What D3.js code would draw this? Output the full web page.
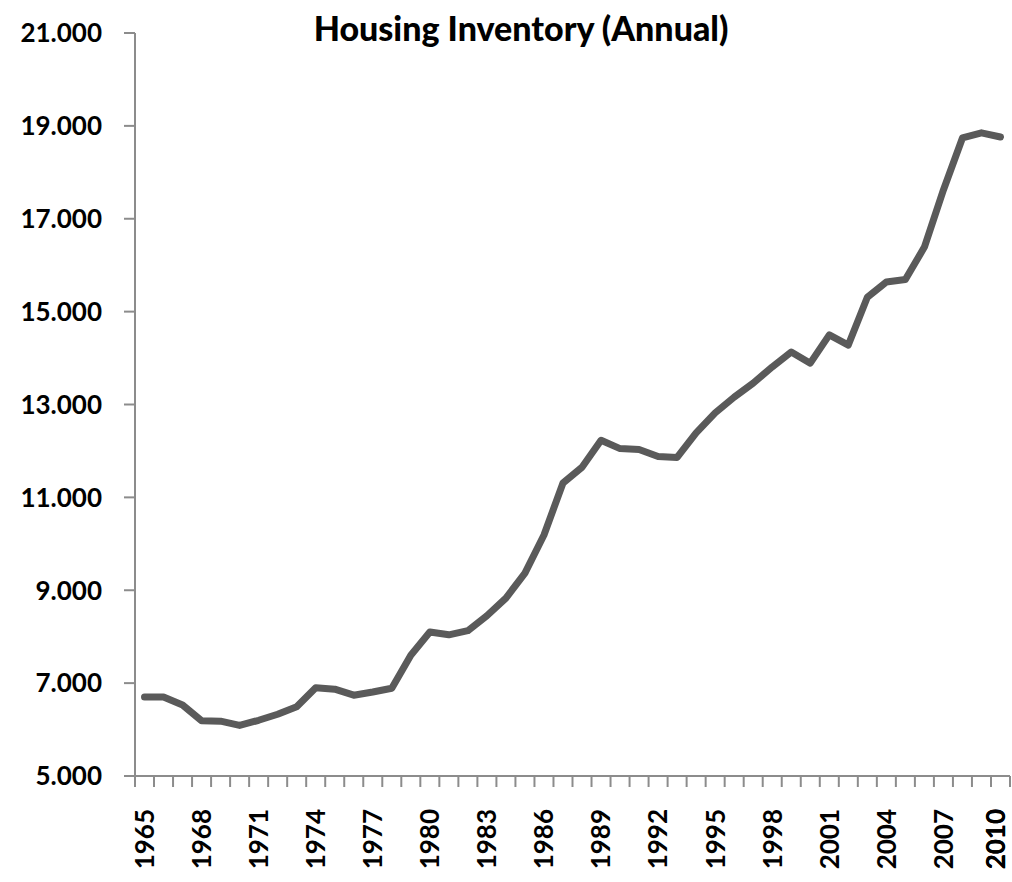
<!DOCTYPE html>
<html>
<head>
<meta charset="utf-8">
<script src="https://cdn.jsdelivr.net/npm/d3@7"></script>
<style>
  body{margin:0;background:#fff;}
  #chart{width:1012px;height:882px;}
  .lbl{font-family:Lato, "Open Sans", sans-serif;font-weight:bold;fill:#000;}
</style>
</head>
<body>
<div id="chart"></div>
<script>
// anos (categorias do eixo x)
var years = d3.range(1965, 2011);
// estoque de moradias
var inventory = [
  6700, 6700, 6530, 6190, 6180, 6090, 6200, 6330, 6490, 6900,
  6870, 6740, 6810, 6890, 7600, 8100, 8040, 8130, 8450, 8830,
  9370, 10190, 11310, 11650, 12230, 12050, 12030, 11880, 11860, 12390,
  12820, 13160, 13460, 13810, 14130, 13890, 14500, 14280, 15310, 15640,
  15690, 16390, 17620, 18740, 18850, 18760
];
var yTicks = [5000, 7000, 9000, 11000, 13000, 15000, 17000, 19000, 21000];
var xLabelYears = d3.range(1965, 2011, 3).concat([2010]);
var title = "Housing Inventory (Annual)";

function LineChart(){
    var margin = {top:33, right:2, bottom:106, left:135};
    var width = 1012, height = 882;
    var plotWidth = width - margin.left - margin.right;
    var plotHeight = height - margin.top - margin.bottom;

    function chart(selection){
        selection.each(function(){
            var el = d3.select(this);
            el.html("");
            var svg = el.append('svg').attr('width',width).attr('height',height);
            var plotArea = svg.append('g')
                .attr("transform","translate("+margin.left+","+margin.top+")");

            var xs = d3.scaleBand().range([0,plotWidth]).domain(years);
            var ys = d3.scaleLinear().range([plotHeight,0]).domain([5000,21000]);
            var fmt = function(v){ return d3.format(",")(v).replace(/,/g,"."); };

            // eixo y
            plotArea.selectAll('line.ytick').data(yTicks).enter().append('line')
                .attr('x1',-11).attr('x2',0)
                .attr('y1',function(d){return ys(d);})
                .attr('y2',function(d){return ys(d);})
                .attr('stroke','#8c8c8c').attr('stroke-width',2);
            plotArea.append('line')
                .attr('x1',0).attr('x2',0).attr('y1',0).attr('y2',plotHeight)
                .attr('stroke','#8c8c8c').attr('stroke-width',2);
            plotArea.selectAll('text.ylab').data(yTicks).enter().append('text')
                .attr('class','lbl')
                .attr('x',-33).attr('y',function(d){return ys(d);})
                .attr('dy','0.36em')
                .attr('text-anchor','end')
                .style('font-size','26px')
                .text(fmt);

            // eixo x: marcas entre as categorias
            var edges = years.map(function(d){return xs(d);}).concat([plotWidth]);
            plotArea.selectAll('line.xtick').data(edges).enter().append('line')
                .attr('x1',function(d){return d;}).attr('x2',function(d){return d;})
                .attr('y1',plotHeight).attr('y2',plotHeight+11)
                .attr('stroke','#8c8c8c').attr('stroke-width',2);
            plotArea.append('line')
                .attr('x1',-11).attr('x2',plotWidth)
                .attr('y1',plotHeight).attr('y2',plotHeight)
                .attr('stroke','#8c8c8c').attr('stroke-width',2);
            plotArea.selectAll('text.xlab').data(xLabelYears).enter().append('text')
                .attr('class','lbl')
                .attr('transform',function(d){
                    // o ultimo rotulo encostaria na borda
                    var cx = Math.min(xs(d)+xs.bandwidth()/2, plotWidth-14);
                    return "translate("+cx+","+(plotHeight+33)+") rotate(-90)";
                })
                .attr('dy','0.36em')
                .attr('text-anchor','end')
                .style('font-size','26px')
                .text(function(d){return d;});

            // linha
            var line = d3.line()
                .x(function(d,i){return xs(years[i])+xs.bandwidth()/2;})
                .y(function(d){return ys(d);});
            plotArea.append('path').datum(inventory)
                .attr('d',line)
                .attr('fill','none')
                .attr('stroke','#5a5a5a')
                .attr('stroke-width',7)
                .attr('stroke-linejoin','round')
                .attr('stroke-linecap','round');

            svg.append('text')
                .attr('class','lbl')
                .attr('x',521).attr('y',41)
                .attr('text-anchor','middle')
                .style('font-size','34px')
                .style('font-weight','900')
                .text(title);
        });
    }
    return chart;
}

d3.select('#chart').call(LineChart());
</script>
</body>
</html>
